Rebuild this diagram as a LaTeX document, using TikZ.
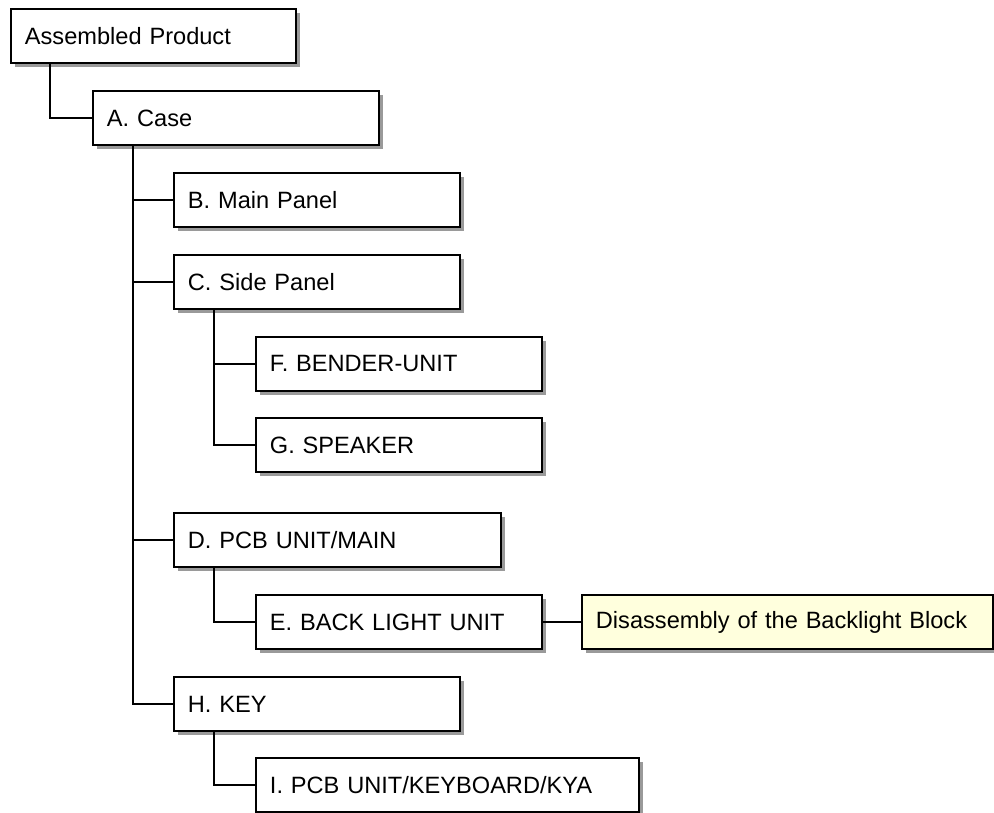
\documentclass[tikz,border=0pt]{standalone}
\usepackage{fontspec}
\setmainfont{Liberation Sans}
\usepackage{tikz}
\usetikzlibrary{shadows}

\definecolor{shadowgray}{HTML}{9A9A9A}
\definecolor{notefill}{HTML}{FFFFDD}

\tikzset{
  part/.style={draw, line width=1.9pt, fill=white, anchor=north west,
    minimum height=54pt, inner xsep=14pt, align=left,
    font=\fontsize{23.6pt}{28pt}\selectfont,
    drop shadow={shadow xshift=4.5pt, shadow yshift=-4.5pt, fill=shadowgray, opacity=1}},
  note/.style={part, fill=notefill},
  link/.style={line width=1.9pt}
}

\begin{document}
\begin{tikzpicture}[x=1pt, y=-1pt]
            \useasboundingbox (0,0) rectangle (994,813); %
            \node[part, text width=257pt] (product) at (10,8) {Assembled Product} ; %
            \node[part, text width=258pt] (case) at (92,90) {A. Case} ; %
            \node[part, text width=258pt] (main) at (173,172) {B. Main Panel} ; %
            \node[part, text width=258pt] (side) at (173,254) {C. Side Panel} ; %
            \node[part, text width=258pt] (bender) at (255,336) {F. BENDER-UNIT} ; %
            \node[part, text width=258pt] (speaker) at (255,417) {G. SPEAKER} ; %
            \node[part, text width=299pt] (pcbmain) at (173,512) {D. PCB UNIT/MAIN} ; %
            \node[part, text width=258pt] (backlight) at (255,594) {E. BACK LIGHT UNIT} ; %
            \node[note, text width=383pt] (disasm) at (581,594) {Disassembly of the Backlight Block} ; %
            \node[part, text width=258pt] (key) at (173,676) {H. KEY} ; %
            \node[part, text width=355pt] (keyboard) at (255,757) {I. PCB UNIT/KEYBOARD/KYA} ; %

            \draw[link] ([xshift=40pt]product.south west) |- (case.west); %
            \foreach \sub in {main,side,pcbmain,key}
              \draw[link] ([xshift=41pt]case.south west) |- (\sub.west); %
            \foreach \sub in {bender,speaker}
              \draw[link] ([xshift=41pt]side.south west) |- (\sub.west); %
            \draw[link] ([xshift=41pt]pcbmain.south west) |- (backlight.west); %
            \draw[link] ([xshift=41pt]key.south west) |- (keyboard.west); %
            \draw[link] (backlight.east) -- (disasm.west); %
\end{tikzpicture}
\end{document}
